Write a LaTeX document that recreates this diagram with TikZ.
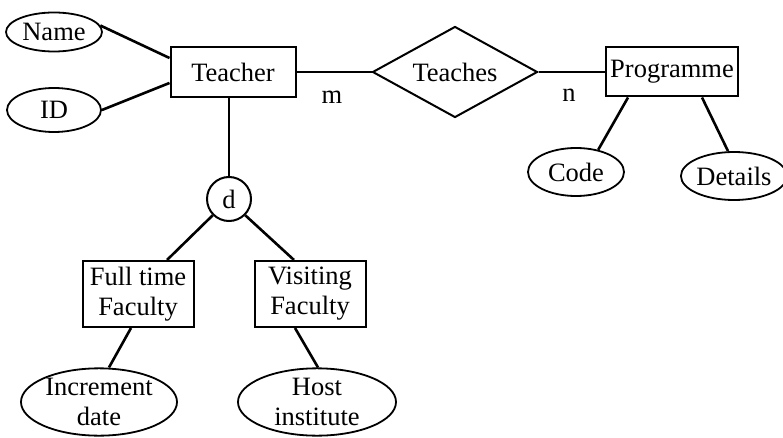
\documentclass[tikz,border=0pt]{standalone}
\usepackage{fontspec}
\setmainfont{Liberation Serif}
\usetikzlibrary{shapes.geometric}
\begin{document}
\begin{tikzpicture}[x=1pt,y=-1pt,
  every node/.style={font=\fontsize{26.5}{30}\selectfont, inner sep=0pt},
  entity/.style={draw, line width=2pt, rectangle},
  attr/.style={draw, line width=1.8pt, ellipse},
  rel/.style={draw, line width=2pt, diamond, aspect=1.8, minimum width=165pt, minimum height=91pt},
  disj/.style={draw, line width=2pt, circle, minimum size=44pt},
  link/.style={line width=2.6pt},
  lbl/.style={}
]
\useasboundingbox (0,0) rectangle (783,438);

% entities
\node[entity, minimum width=125pt, minimum height=50pt] (teacher) at (233,72) {Teacher};
\node[entity, minimum width=132pt, minimum height=49pt] (prog) at (672,72) {Programme};
\node[entity, minimum width=111pt, minimum height=66pt, align=center] (full) at (138,294) {Full time\\Faculty};
\node[entity, minimum width=111pt, minimum height=66pt, align=center] (visit) at (310,294) {Visiting\\Faculty};

% relationship and specialisation circle
\node[rel] (teaches) at (455,72) {Teaches};
\node[disj] (d) at (229,199) {d};

% attributes
\node[attr, minimum width=96pt, minimum height=39pt] (name) at (54,32) {Name};
\node[attr, minimum width=94pt, minimum height=44pt] (id) at (54,110) {ID};
\node[attr, minimum width=96pt, minimum height=48pt] (code) at (576,172) {Code};
\node[attr, minimum width=94pt, minimum height=48pt] (details) at (734,176) {Details};
\node[attr, minimum width=156pt, minimum height=64pt, align=center] (inc) at (99,402) {Increment\\date};
\node[attr, minimum width=158pt, minimum height=64pt, align=center] (host) at (317,402) {Host\\institute};

% cardinalities
\node[lbl] (m) at (332,97) {m};
\node[lbl] (n) at (569,95) {n};

% connectors
\draw[link] (name.8) -- ([yshift=14pt]teacher.west);
\draw[link] (id.east) -- ([yshift=-11pt]teacher.west);
\draw[link] (teacher.east) -- (teaches.west);
\draw[link] (teaches.east) -- (prog.west);
\draw[link] ([xshift=-44pt]prog.south) -- (code.45);
\draw[link] ([xshift=30pt]prog.south) -- ([xshift=-6pt]details.north);
\draw[link] (d.north |- teacher.south) -- (d.north);
\draw[link] (d.225) -- ([xshift=29pt]full.north);
\draw[link] (d.-45) -- ([xshift=-16pt]visit.north);
\draw[link] ([xshift=-7pt]full.south) -- ([xshift=10pt]inc.north);
\draw[link] ([xshift=-15pt]visit.south) -- ([xshift=1pt]host.north);
\end{tikzpicture}
\end{document}
